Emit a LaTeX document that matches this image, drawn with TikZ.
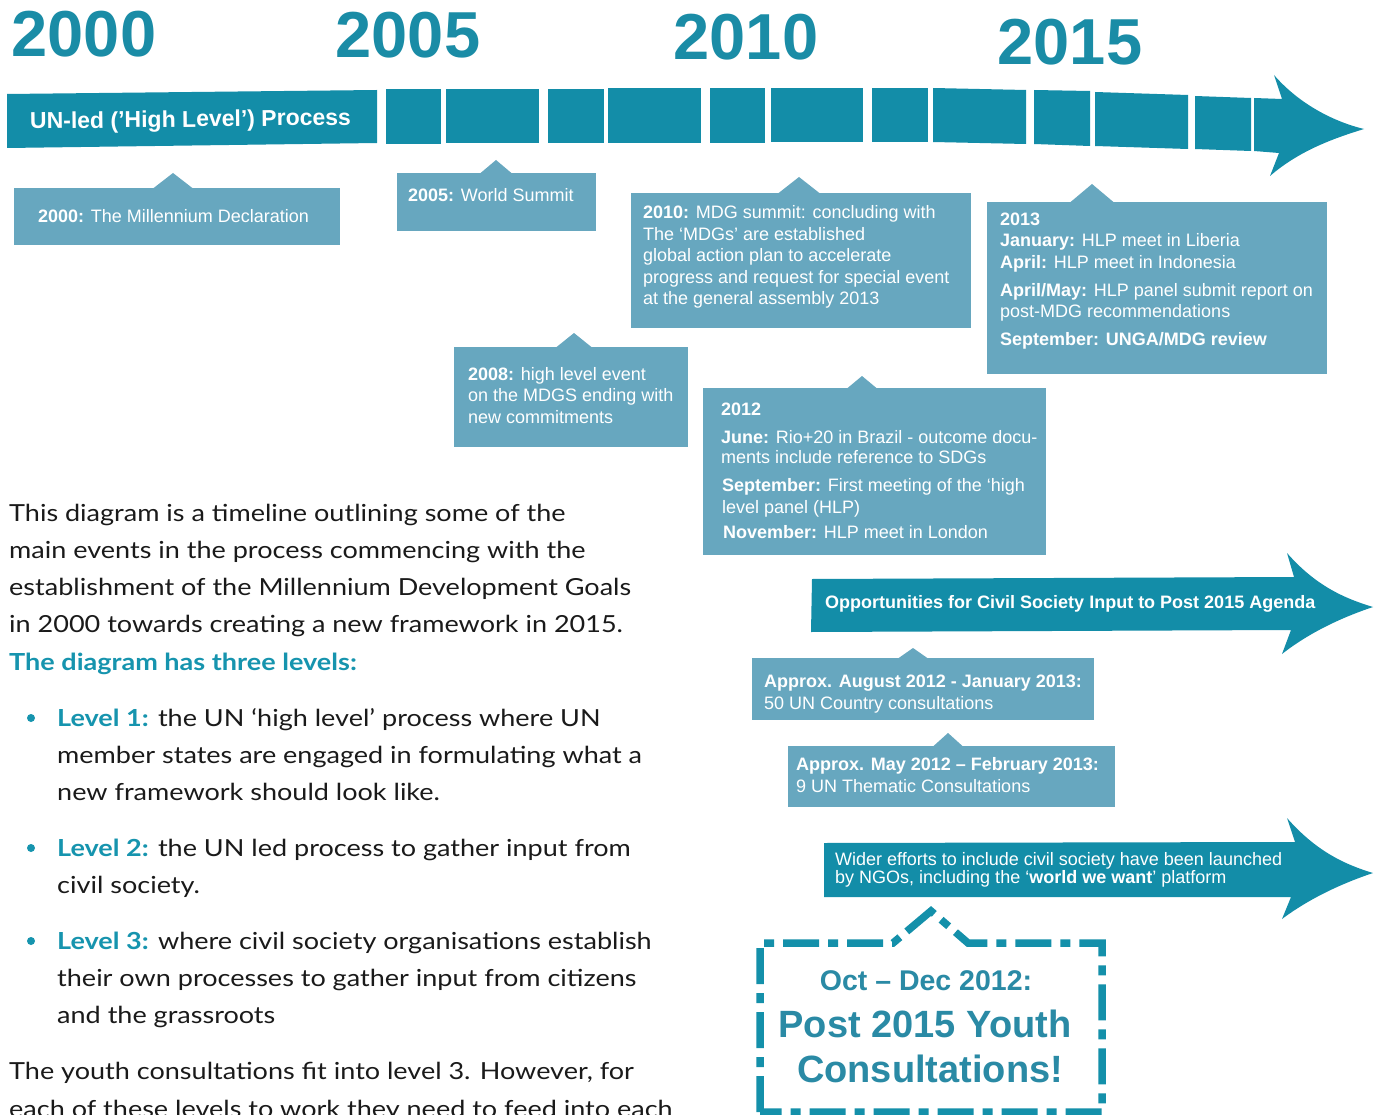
\documentclass[tikz,border=0pt]{standalone}
\usepackage{fontspec}
\setmainfont{Liberation Sans}
\newfontfamily\latofont[FakeStretch=1.15]{Lato}
\definecolor{band}{HTML}{138DA8}
\definecolor{boxc}{HTML}{67A7BF}
\definecolor{yr}{HTML}{1A8CA6}
\definecolor{lvl}{HTML}{1694AE}
\definecolor{txt}{HTML}{1A1A1A}
\definecolor{dashc}{HTML}{1490AA}
\definecolor{youth}{HTML}{2A8AA5}
\newcommand\callout[7]{%
  \fill[boxc] (#1,#2) rectangle (#3,#4);
  \fill[boxc] (#5-#7,#2+0.5) -- (#5,#6) -- (#5+#7,#2+0.5) -- cycle;}
\newcommand\bandseg[6]{\fill[band] (#1,#3) -- (#2,#4) -- (#2,#6) -- (#1,#5) -- cycle;}
\begin{document}
\begin{tikzpicture}[x=1pt,y=-1pt,
  boxtext/.style={anchor=base west,inner sep=0pt,text=white,font=\fontsize{18}{21.5}\selectfont},
  year/.style={anchor=base,inner sep=0pt,text=yr,font=\fontsize{65}{65}\selectfont\bfseries},
  body/.style={anchor=base west,inner sep=0pt,text=txt,font=\latofont\fontsize{23.5}{37}\selectfont},
  lev/.style={text=lvl,font=\latofont\bfseries\fontsize{23.5}{37}\selectfont},
  bul/.style={fill=lvl,circle,inner sep=0pt,minimum size=8pt},
  youthtxt/.style={anchor=base,inner sep=0pt,text=youth,font=\bfseries}]
\fill[white] (0,0) rectangle (1381,1115);
\useasboundingbox (0,0) rectangle (1381,1115);

% years
\node[year] (y2000) at (84,57) {2000};
\node[year] (y2005) at (408,58) {2005};
\node[year] (y2010) at (746,60) {2010};
\node[year] (y2015) at (1070,65) {2015};

% main band
\bandseg{7}{377}{94}{90}{148}{143}
\bandseg{386}{441}{89}{89}{144}{144}
\bandseg{446}{539}{89}{89}{143}{143}
\bandseg{548}{604}{89}{89}{143}{143}
\bandseg{608}{701}{88}{88}{143}{143}
\bandseg{710}{765}{88}{88}{143}{143}
\bandseg{771}{863}{88}{88}{142}{142}
\bandseg{872}{928}{88}{88}{142}{142}
\bandseg{933}{1026}{88}{90}{142}{144}
\bandseg{1034}{1090}{90}{91}{144}{146}
\bandseg{1095}{1188}{92}{95}{146}{149}
\bandseg{1195}{1251}{96}{98}{149}{151}
\fill[band] (1254,98) -- (1282,99) -- (1274,75) .. controls (1300,105) and (1335,122) .. (1364,129)
  .. controls (1335,138) and (1300,150) .. (1270,176) -- (1279,153) -- (1254,151) -- cycle;
\node[anchor=base west,inner sep=0pt,text=white,rotate=0.7,font=\fontsize{23}{23}\selectfont\bfseries] (unled) at (30,129) {UN-led (’High Level’) Process};

% callouts
\callout{14}{188}{340}{245}{173}{173}{20}
\node[boxtext] (t2000) at (38,223) {\textbf{2000:} The Millennium Declaration};
\callout{397}{173}{596}{231}{496}{160}{16}
\node[boxtext] (t2005) at (408,202) {\textbf{2005:} World Summit};
\callout{454}{347}{688}{447}{574}{333}{18}
\node[boxtext] (t2008a) at (468,380) {\textbf{2008:} high level event};
\node[boxtext] (t2008b) at (468,401) {on the MDGS ending with};
\node[boxtext] (t2008c) at (468,423) {new commitments};
\callout{631}{193}{971}{328}{799}{177}{21}
\node[boxtext] (t2010a) at (643,219) {\textbf{2010:} MDG summit: concluding with};
\node[boxtext] (t2010b) at (643,240.5) {The ‘MDGs’ are established};
\node[boxtext] (t2010c) at (643,262) {global action plan to accelerate};
\node[boxtext] (t2010d) at (643,283.5) {progress and request for special event};
\node[boxtext] (t2010e) at (643,305) {at the general assembly 2013};
\callout{987}{202}{1327}{374}{1092}{184}{22}
\node[boxtext] (t2013a) at (1000,226) {\textbf{2013}};
\node[boxtext] (t2013b) at (1000,247) {\textbf{January:} HLP meet in Liberia};
\node[boxtext] (t2013c) at (1000,269) {\textbf{April:} HLP meet in Indonesia};
\node[boxtext] (t2013d) at (1000,297) {\textbf{April/May:} HLP panel submit report on};
\node[boxtext] (t2013e) at (1000,317) {post-MDG recommendations};
\node[boxtext] (t2013f) at (1000,345) {\textbf{September: UNGA/MDG review}};
\callout{703}{388}{1046}{555}{862}{376}{15}
\node[boxtext] (t2012a) at (721,415) {\textbf{2012}};
\node[boxtext] (t2012b) at (721,443) {\textbf{June:} Rio+20 in Brazil - outcome docu-};
\node[boxtext] (t2012c) at (721,463) {ments include reference to SDGs};
\node[boxtext] (t2012d) at (722,491) {\textbf{September:} First meeting of the ‘high};
\node[boxtext] (t2012e) at (722,513) {level panel (HLP)};
\node[boxtext] (t2012f) at (723,538) {\textbf{November:} HLP meet in London};

% civil society arrow 1
\fill[band] (812,579) -- (1294,577) -- (1287,553) .. controls (1315,585) and (1343,598) .. (1373,607)
  .. controls (1343,617) and (1310,632) .. (1282,654) -- (1291,630) -- (811,632) -- cycle;
\node[boxtext,font=\fontsize{18}{18}\selectfont\bfseries] (opp) at (825,608) {Opportunities for Civil Society Input to Post 2015 Agenda};
\callout{752}{658}{1094}{720}{913}{648}{15}
\node[boxtext] (aug1) at (764,687) {\textbf{Approx. August 2012 - January 2013:}};
\node[boxtext] (aug2) at (764,709) {50 UN Country consultations};
\callout{788}{746}{1115}{807}{948}{733}{15}
\node[boxtext] (may1) at (796,770) {\textbf{Approx. May 2012 – February 2013:}};
\node[boxtext] (may2) at (796,792) {9 UN Thematic Consultations};

% civil society arrow 2
\fill[band] (824,843) -- (1295,842) -- (1287,818) .. controls (1315,850) and (1343,864) .. (1373,873)
  .. controls (1343,883) and (1310,898) .. (1282,919) -- (1291,897) -- (824,897) -- cycle;
\node[boxtext] (wid1) at (835,865) {Wider efforts to include civil society have been launched};
\node[boxtext] (wid2) at (835,883) {by NGOs, including the ‘\textbf{world we want}’ platform};

% dashed youth box
\draw[dashc,line width=7.5pt,dash pattern=on 36pt off 9pt on 10pt off 9pt,line join=miter]
  (760,1112) -- (760,943) -- (893,943) -- (931,911) -- (968,943) -- (1102,943) -- (1102,1112) -- cycle;
\node[youthtxt,font=\fontsize{28.5}{28.5}\selectfont\bfseries] (yt1) at (926,990) {Oct – Dec 2012:};
\node[youthtxt,font=\fontsize{38}{38}\selectfont\bfseries] (yt2) at (925,1037) {Post 2015 Youth};
\node[youthtxt,font=\fontsize{38}{38}\selectfont\bfseries] (yt3) at (930,1082) {Consultations!};

% left text
\node[body] (p1) at (9,521) {This diagram is a timeline outlining some of the};
\node[body] (p2) at (9,558) {main events in the process commencing with the};
\node[body] (p3) at (9,595) {establishment of the Millennium Development Goals};
\node[body] (p4) at (9,632) {in 2000 towards creating a new framework in 2015.};
\node[body,lev] (p5) at (9,670) {The diagram has three levels:};
\node[bul] (b1) at (31,718) {};
\node[body] (l1a) at (57,726) {{\bfseries\color{lvl}Level 1:} the UN ‘high level’ process where UN};
\node[body] (l1b) at (57,763) {member states are engaged in formulating what a};
\node[body] (l1c) at (57,800) {new framework should look like.};
\node[bul] (b2) at (31,848) {};
\node[body] (l2a) at (57,856) {{\bfseries\color{lvl}Level 2:} the UN led process to gather input from};
\node[body] (l2b) at (57,893) {civil society.};
\node[bul] (b3) at (31,941) {};
\node[body] (l3a) at (57,949) {{\bfseries\color{lvl}Level 3:} where civil society organisations establish};
\node[body] (l3b) at (57,986) {their own processes to gather input from citizens};
\node[body] (l3c) at (57,1023) {and the grassroots};
\node[body] (p6) at (9,1079) {The youth consultations fit into level 3. However, for};
\node[body] (p7) at (9,1117) {each of these levels to work they need to feed into each};
\end{tikzpicture}
\end{document}
